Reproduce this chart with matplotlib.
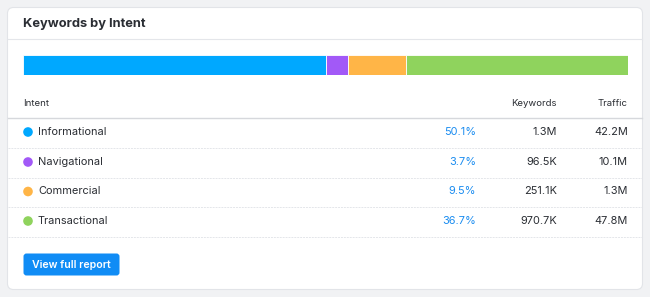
import matplotlib.pyplot as plt
from matplotlib.patches import FancyBboxPatch

plt.rcParams['font.family'] = ['Inter', 'DejaVu Sans']

# data
intents = ['Informational', 'Navigational', 'Commercial', 'Transactional']
shares = [50.1, 3.7, 9.5, 36.7]
keywords = ['1.3M', '96.5K', '251.1K', '970.7K']
traffic = ['42.2M', '10.1M', '1.3M', '47.8M']
colors = ['#00a8ff', '#a259f7', '#ffb547', '#8fd35d']

text_col = '#2a2d33'
link_col = '#1a8cf0'
line_col = '#e4e6ea'

fig = plt.figure(figsize=(6.5, 2.97), dpi=100)
fig.patch.set_facecolor('#f1f2f4')

# pixel-space axes for the card
ax = fig.add_axes([0, 0, 1, 1])
ax.set_xlim(0, 650)
ax.set_ylim(297, 0)
ax.axis('off')

card = FancyBboxPatch((7.5, 7.5), 635, 282, boxstyle='round,pad=0,rounding_size=6',
                      facecolor='white', edgecolor='#e2e4e8', linewidth=0.8)
ax.add_patch(card)

ax.text(23, 24, 'Keywords by Intent', fontsize=9.3, fontweight='bold',
        color=text_col, va='center', ha='left')
ax.plot([8, 642], [38.5, 38.5], color=line_col, lw=0.8)

# header
ax.text(23, 103, 'Intent', fontsize=6.9, color=text_col, va='center')
ax.text(557, 103, 'Keywords', fontsize=6.9, color=text_col, va='center', ha='right')
ax.text(628, 103, 'Traffic', fontsize=6.9, color=text_col, va='center', ha='right')
ax.plot([8, 642], [117.5, 117.5], color='#d6d8dc', lw=1.0)

row_y = [132, 162, 191.5, 221]
for i, name in enumerate(intents):
    y = row_y[i]
    ax.scatter([28], [y], s=48, color=colors[i], edgecolors='none', zorder=3)
    ax.text(38, y, name, fontsize=7.9, color=text_col, va='center')
    ax.text(476, y, f'{shares[i]}%', fontsize=7.9, color=link_col, va='center', ha='right')
    ax.text(557, y, keywords[i], fontsize=7.9, color=text_col, va='center', ha='right')
    ax.text(628, y, traffic[i], fontsize=7.9, color=text_col, va='center', ha='right')
    ax.plot([8, 642], [y + 15.5, y + 15.5], color=line_col, lw=0.7, ls=(0, (2, 1)))

# button
btn = FancyBboxPatch((23.5, 253.5), 96, 22, boxstyle='round,pad=0,rounding_size=3',
                     facecolor='#108cf5', edgecolor='none')
ax.add_patch(btn)
ax.text(71.5, 264.5, 'View full report', fontsize=7.6, fontweight='semibold',
        color='white', va='center', ha='center')

# stacked share bar
bax = fig.add_axes([23 / 650, 1 - 74.5 / 297, 605 / 650, 19.5 / 297])
left = 0
for s, c in zip(shares, colors):
    bax.barh(0, s, left=left, height=1, color=c, edgecolor='white', linewidth=0.6)
    left += s
bax.set_xlim(0, 100)
bax.set_ylim(-0.5, 0.5)
bax.axis('off')

fig.savefig('out.png', dpi=100, facecolor=fig.get_facecolor())
